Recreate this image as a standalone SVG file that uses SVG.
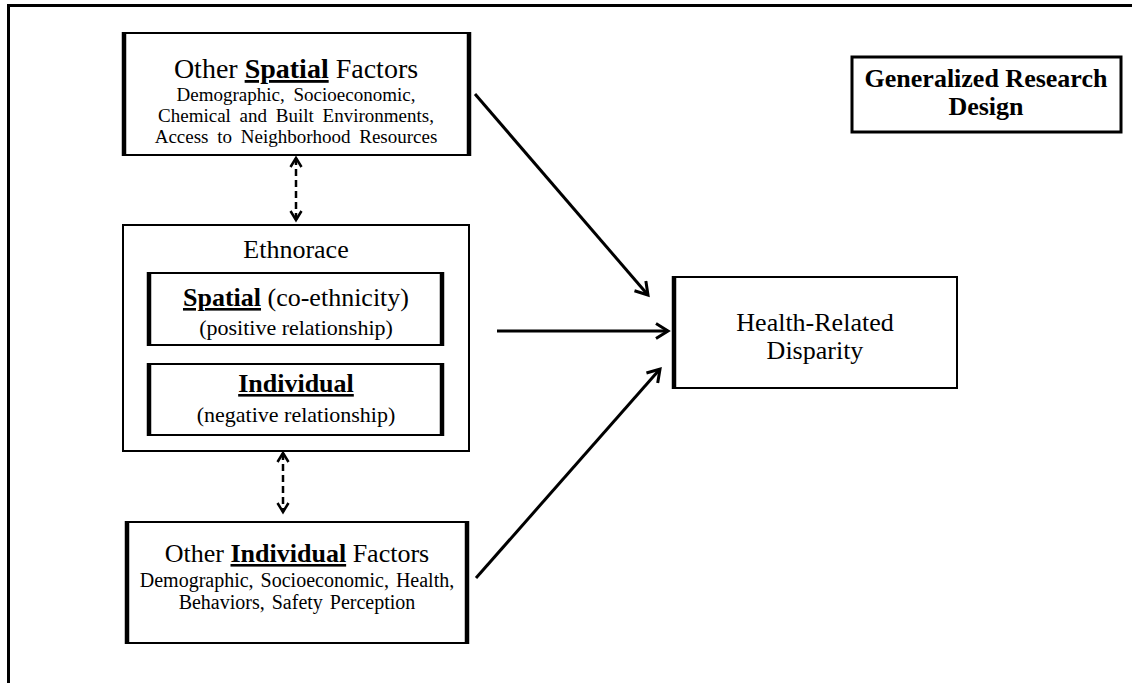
<svg xmlns="http://www.w3.org/2000/svg" width="1132" height="683" viewBox="0 0 1132 683">
<defs>
<style>
text{font-family:"Liberation Serif","Times New Roman",serif;fill:#000;text-anchor:middle}
.t28{font-size:28px}.t26{font-size:26px}.t22{font-size:22px}.t19{font-size:19px;word-spacing:4px}.t20{font-size:20px;word-spacing:2px}
.b{font-weight:bold}.u{text-decoration:underline}
.box{fill:#fff;stroke:#000;stroke-width:2}
.side{stroke:#000;stroke-width:4.5}
.conn{stroke:#000;stroke-width:3;fill:none}
.dash{stroke:#000;stroke-width:2.5;fill:none;stroke-dasharray:7 4}
</style>
<marker id="ah" markerWidth="18" markerHeight="18" refX="14" refY="9" orient="auto" markerUnits="userSpaceOnUse">
<path d="M2,1.5 L14,9 L2,16.5" fill="none" stroke="#000" stroke-width="3"/>
</marker>
<marker id="ahs" markerWidth="14" markerHeight="14" refX="11" refY="7" orient="auto-start-reverse" markerUnits="userSpaceOnUse">
<path d="M2,1.5 L11,7 L2,12.5" fill="none" stroke="#000" stroke-width="2.5"/>
</marker>
</defs>
<rect width="1132" height="683" fill="#fff"/>
<path d="M8.5,683 V5.5 H1132" fill="none" stroke="#000" stroke-width="3"/>

<g id="connectors">
<line class="dash" x1="296" y1="158" x2="296" y2="220" marker-start="url(#ahs)" marker-end="url(#ahs)"/>
<line class="dash" x1="283" y1="453" x2="283" y2="512" marker-start="url(#ahs)" marker-end="url(#ahs)"/>
<line class="conn" x1="475" y1="94" x2="648" y2="295" marker-end="url(#ah)"/>
<line class="conn" x1="497" y1="331" x2="668" y2="331" marker-end="url(#ah)"/>
<line class="conn" x1="476" y1="578" x2="660" y2="369" marker-end="url(#ah)"/>
</g>

<g id="spatial-factors">
<rect class="box" x="123" y="33" width="347" height="122"/>
<line class="side" x1="124" y1="32" x2="124" y2="156"/>
<line class="side" x1="469" y1="32" x2="469" y2="156"/>
<text class="t28" x="296" y="78">Other <tspan class="b u">Spatial</tspan> Factors</text>
<text class="t19" x="296" y="101">Demographic, Socioeconomic,</text>
<text class="t19" x="296" y="122">Chemical and Built Environments,</text>
<text class="t19" x="296" y="143">Access to Neighborhood Resources</text>
</g>

<g id="ethnorace">
<rect class="box" x="123" y="225" width="346" height="226"/>
<text class="t26" x="296" y="258">Ethnorace</text>
</g>

<g id="spatial-ethnicity">
<rect class="box" x="148" y="273" width="295" height="72"/>
<line class="side" x1="149" y1="272" x2="149" y2="346"/>
<line class="side" x1="442" y1="272" x2="442" y2="346"/>
<text class="t26" x="296" y="306"><tspan class="b u">Spatial</tspan> (co-ethnicity)</text>
<text class="t22" x="296" y="335">(positive relationship)</text>
</g>

<g id="individual-ethnicity">
<rect class="box" x="148" y="364" width="295" height="71"/>
<line class="side" x1="149" y1="363" x2="149" y2="436"/>
<line class="side" x1="442" y1="363" x2="442" y2="436"/>
<text class="t26 b" x="296" y="392"><tspan class="u">Individual</tspan></text>
<text class="t22" x="296" y="422">(negative relationship)</text>
</g>

<g id="individual-factors">
<rect class="box" x="126" y="522" width="342" height="121"/>
<line class="side" x1="127" y1="521" x2="127" y2="644"/>
<line class="side" x1="467" y1="521" x2="467" y2="644"/>
<text class="t26" x="297" y="562">Other <tspan class="b u">Individual</tspan> Factors</text>
<text class="t20" x="297" y="587">Demographic, Socioeconomic, Health,</text>
<text class="t20" x="297" y="609">Behaviors, Safety Perception</text>
</g>

<g id="health-disparity">
<rect class="box" x="673" y="277" width="284" height="111"/>
<line class="side" x1="674" y1="276" x2="674" y2="389"/>
<text class="t26" x="815" y="331">Health-Related</text>
<text class="t26" x="815" y="359">Disparity</text>
</g>

<g id="design-label">
<rect x="852" y="57" width="269" height="75" fill="#fff" stroke="#000" stroke-width="3"/>
<text class="t26 b" x="986" y="87">Generalized Research</text>
<text class="t26 b" x="986" y="115">Design</text>
</g>
</svg>
